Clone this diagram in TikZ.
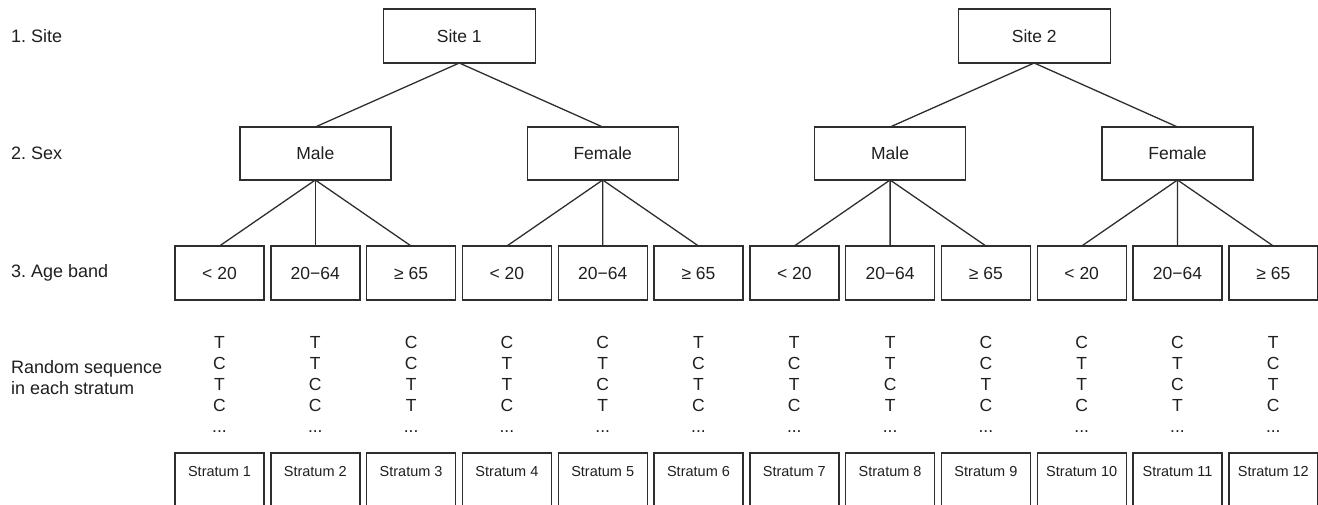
\documentclass[tikz,border=0pt]{standalone}
\usepackage{fontspec}
\setmainfont{Liberation Sans}
\frenchspacing
\begin{document}
\begin{tikzpicture}[x=1pt,y=-1pt,
  ink/.style={draw=black!82, line width=1.4pt},
  box/.style={ink, rectangle, inner sep=0pt, outer sep=0pt, text=black!88},
  sitebox/.style={box, minimum width=152pt, minimum height=54pt, font=\fontsize{17.5}{21}\selectfont},
  sexbox/.style={box, minimum width=151pt, minimum height=53pt, font=\fontsize{17.5}{21}\selectfont},
  agebox/.style={box, minimum width=89pt, minimum height=54pt, font=\fontsize{17.5}{21}\selectfont},
  stratbox/.style={box, minimum width=89pt, minimum height=60pt},
  stratlbl/.style={inner sep=0pt, text=black!88, font=\fontsize{14.5}{17}\selectfont},
  seq/.style={inner sep=0pt, anchor=base, text=black!88, font=\fontsize{17.5}{21}\selectfont},
  rowlbl/.style={inner sep=0pt, anchor=west, text=black!88, font=\fontsize{18}{21}\selectfont, align=left},
  link/.style={ink, line width=1.3pt}]

\clip (0,0) rectangle (1318,504);

% row headings
\node[rowlbl] (h1) at (11,36) {1. Site};
\node[rowlbl] (h2) at (11,153.5) {2. Sex};
\node[rowlbl] (h3) at (11,273) {3. Age band};
\node[rowlbl, anchor=base west] (h4a) at (11,373) {Random sequence};
\node[rowlbl, anchor=base west] (h4b) at (11,394) {in each stratum};

% sites
\node[sitebox] (site1) at (459.3,36) {Site 1};
\node[sitebox] (site2) at (1034.2,36) {Site 2};

% sexes
\node[sexbox] (m1) at (315.3,153.5) {Male};
\node[sexbox] (f1) at (602.7,153.5) {Female};
\node[sexbox] (m2) at (890.1,153.5) {Male};
\node[sexbox] (f2) at (1177.5,153.5) {Female};

\foreach \s/\k in {site1/m1, site1/f1, site2/m2, site2/f2}
  \draw[link] (\s.south) -- (\k.north);

% age bands, sequences and strata
\foreach \i/\age/\a/\b/\c/\d [evaluate=\i as \x using 219.5+95.8*(\i-1)] in {
   1/< 20/T/C/T/C,
   2/20−64/T/T/C/C,
   3/≥ 65/C/C/T/T,
   4/< 20/C/T/T/C,
   5/20−64/C/T/C/T,
   6/≥ 65/T/C/T/C,
   7/< 20/T/C/T/C,
   8/20−64/T/T/C/T,
   9/≥ 65/C/C/T/C,
  10/< 20/C/T/T/C,
  11/20−64/C/T/C/T,
  12/≥ 65/T/C/T/C}{
  \node[agebox] (age\i) at (\x,273) {\age};
  \node[seq] (q\i-1) at (\x,348) {\a};
  \node[seq] (q\i-2) at (\x,369) {\b};
  \node[seq] (q\i-3) at (\x,390) {\c};
  \node[seq] (q\i-4) at (\x,411) {\d};
  \node[seq] (q\i-5) at (\x,432) {...};
  \node[stratbox] (st\i) at (\x,483) {};
  \node[stratlbl] (sl\i) at (\x,472) {Stratum \i};
}

\foreach \p/\k in {m1/1, m1/2, m1/3, f1/4, f1/5, f1/6, m2/7, m2/8, m2/9, f2/10, f2/11, f2/12}
  \draw[link] (\p.south) -- (age\k.north);
\end{tikzpicture}
\end{document}
